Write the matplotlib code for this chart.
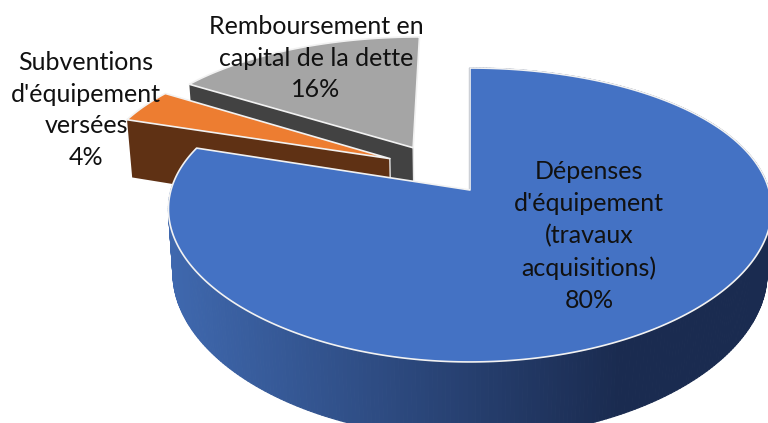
import numpy as np
import matplotlib
matplotlib.use('Agg')
import matplotlib.pyplot as plt
from matplotlib.collections import PolyCollection
from matplotlib.colors import to_rgb

# donnees du graphique (sens horaire depuis le haut)
categories = ['Dépenses\nd\'équipement\n(travaux\nacquisitions)',
              'Subventions\nd\'équipement\nversées',
              'Remboursement en\ncapital de la dette']
valeurs = [80, 4, 16]
pct_labels = ['80%', '4%', '16%']
couleurs_dessus = ['#4472C4', '#ED7D31', '#A5A5A5']
couleurs_cote = ['#2F4F8F', '#5F3114', '#424242']
label_xy = [(589, 236), (86, 110), (316, 58)]

# projection en perspective, origine = pointe de la part bleue
CX, CY = 470, 190
R, A = 299, 142.7
KX, KY = 0.13, 0.17
DEPTH = 63
SHRINK = 0.985
EXPLODE = 0.185


def projette(X, Y, bas=False):
    sx = CX + R * X / (1 + KX * Y)
    w = 1 + KY * Y
    sy = CY - A * Y / w
    if bas:
        sx = CX + (sx - CX) * SHRINK
        sy = sy + DEPTH / w
    return sx, sy


def poly(X, Y, bas=False):
    return np.column_stack(projette(np.asarray(X), np.asarray(Y), bas))


def couleur_cote(x):
    # degrade du flanc bleu, de gauche a droite
    t = np.clip((x - 170) / (620 - 170), 0, 1)
    a = np.array(to_rgb('#3F68AE'))
    b = np.array(to_rgb('#1A2B50'))
    return a + (b - a) * t


fig = plt.figure(figsize=(7.68, 4.23), dpi=100)
ax = fig.add_axes([0, 0, 1, 1])
ax.set_xlim(0, 768)
ax.set_ylim(423, 0)
ax.axis('off')

fractions = np.array(valeurs) / sum(valeurs)
bords = np.concatenate([[0], np.cumsum(fractions)]) * 2 * np.pi
milieux = (bords[:-1] + bords[1:]) / 2
ref = np.array([np.sin(milieux[0]), np.cos(milieux[0])])

# ordre de dessin: du fond vers l'avant
for i in [2, 1, 0]:
    t = np.linspace(bords[i], bords[i + 1], 400)
    ox, oy = EXPLODE * (np.array([np.sin(milieux[i]), np.cos(milieux[i])]) - ref)
    X = ox + np.sin(t)
    Y = oy + np.cos(t)
    z = 6 if i == 0 else 5 - i

    if i == 0:
        # flanc avec degrade, morceau par morceau
        haut = poly(X, Y)
        bas = poly(X, Y, bas=True)
        morceaux = [[haut[j], haut[j + 1], bas[j + 1], bas[j]] for j in range(len(t) - 1)]
        cols = [couleur_cote(haut[j, 0]) for j in range(len(t) - 1)]
        ax.add_collection(PolyCollection(morceaux, facecolors=cols, edgecolors=cols,
                                         linewidths=0.8, zorder=2))
        # paroi de depart, tres fine
        debut = poly([ox, X[0]], [oy, Y[0]])
        ax.plot(debut[:, 0] - 1, debut[:, 1], color='#1A2B50', lw=0.8, zorder=2)
    else:
        # paroi radiale visible
        mur = np.vstack([poly([ox, X[0]], [oy, Y[0]]),
                         poly([X[0], ox], [Y[0], oy], bas=True)])
        ax.fill(mur[:, 0], mur[:, 1], color=couleurs_cote[i], lw=0, zorder=z)
        # filet clair a la pointe
        pointe = np.vstack([poly([ox], [oy]), poly([ox], [oy], bas=True)])
        ax.plot(pointe[:, 0], pointe[:, 1], color='#E6E6E6', lw=1.0, zorder=z)

    dessus = np.vstack([poly([ox], [oy]), poly(X, Y)])
    ax.fill(dessus[:, 0], dessus[:, 1], facecolor=couleurs_dessus[i], edgecolor='#F2F2F2',
            lw=1.2, joinstyle='round', zorder=z)

# etiquettes
for cat, pct, (x, y) in zip(categories, pct_labels, label_xy):
    ax.text(x, y, cat + '\n' + pct, ha='center', va='center', family='Lato', fontsize=18,
            color='#111111', linespacing=1.46, zorder=10)

fig.savefig('out.png', dpi=100)
